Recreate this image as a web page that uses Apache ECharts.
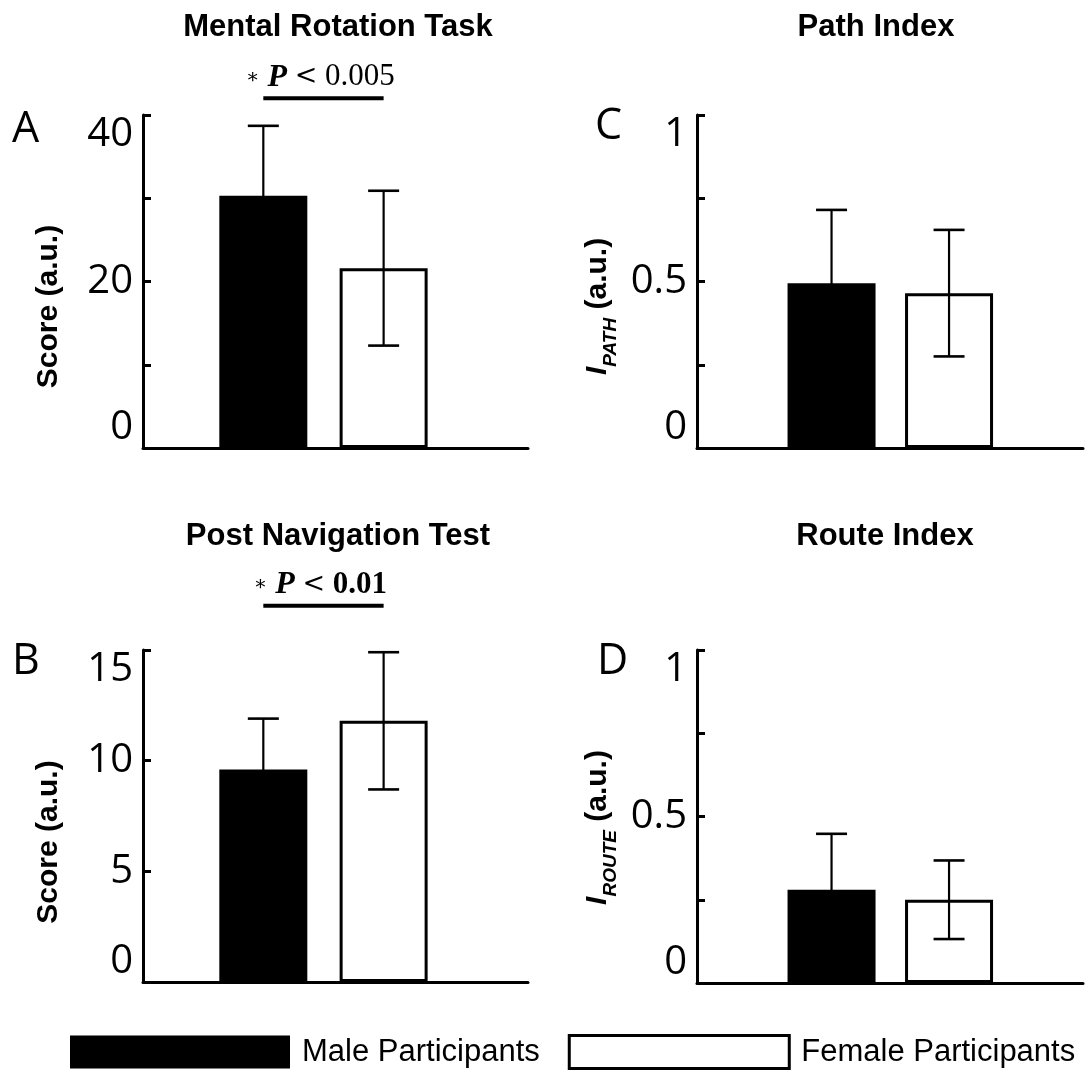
<!DOCTYPE html>
<html><head><meta charset="utf-8">
<script src="https://cdn.jsdelivr.net/npm/echarts@6/dist/echarts.min.js"></script>
<style>html,body{margin:0;padding:0;background:#fff}#c{width:1086px;height:1075px}</style>
</head><body><div id="c"></div>
<script>
// ---- data ----
const groupNames = ['Male Participants', 'Female Participants'];
const panelLetters = ['A', 'B', 'C', 'D'];
const panelTitles = ['Mental Rotation Task', 'Post Navigation Test', 'Path Index', 'Route Index'];
const groupX = [1, 2];
const maleMean = [30.3, 9.6, 0.495, 0.28];
const maleSD = [8.4, 2.3, 0.22, 0.168];
const femaleMean = [21.6, 11.8, 0.465, 0.25];
const femaleSD = [9.3, 3.1, 0.19, 0.118];
const yMax = [40, 15, 1, 1];
const yStep = [10, 5, 0.25, 0.25];
const yLabelled = [[0, 20, 40], [0, 5, 10, 15], [0, 0.5, 1], [0, 0.5, 1]];
const sigStar = ['∗', '∗', null, null];
const sigP = ['0.005', '0.01', null, null];
const sigLevel = [42, 17, null, null];
const yNames = [
  'Score (a.u.)',
  'Score (a.u.)',
  '{i|I}{s|PATH}{n| (a.u.)}',
  '{i|I}{s|ROUTE}{n| (a.u.)}'
];

// ---- layout ----
const gridLeft = [143, 143, 697, 697];
const gridTop = [115, 650, 115, 650];
const gridWidth = [385, 385, 386, 386];
const gridHeight = [333, 332, 333, 333];
const xMin = [0, 0, -0.145, -0.145];
const xMax = [3.2, 3.2, 3.14, 3.14];
const titleX = [338, 338, 876, 885];
const titleY = [12, 521, 12, 521];
const nameShift = [50, 52, 50, 22];
const nameGapArr = [79, 79, 77, 77];
const letterX = [12, 12, 595, 597];
const letterY = [130, 662, 127, 662];

const chart = echarts.init(document.getElementById('c'), null, {renderer: 'canvas'});

const grids = [], xAxes = [], yAxes = [], series = [], titles = [], graphics = [];
const nameRich = {
  i: {fontFamily: 'Liberation Sans', fontStyle: 'italic', fontWeight: 'bold', fontSize: 30, lineHeight: 44, color: '#000'},
  s: {fontFamily: 'Liberation Sans', fontStyle: 'italic', fontWeight: 'bold', fontSize: 19, lineHeight: 26, verticalAlign: 'bottom', color: '#000'},
  n: {fontFamily: 'Liberation Sans', fontWeight: 'bold', fontSize: 30, lineHeight: 44, color: '#000'}
};

for (let i = 0; i < 4; i++) {
  grids.push({left: gridLeft[i], top: gridTop[i], width: gridWidth[i], height: gridHeight[i], containLabel: false});
  xAxes.push({
    type: 'value', gridIndex: i, min: xMin[i], max: xMax[i],
    axisLine: {show: true, onZero: false, lineStyle: {color: '#000', width: 3}},
    axisTick: {show: false}, axisLabel: {show: false}, splitLine: {show: false}
  });
  const labelled = yLabelled[i];
  yAxes.push({
    type: 'value', gridIndex: i, min: 0, max: yMax[i], interval: yStep[i],
    axisLine: {show: true, onZero: false, lineStyle: {color: '#000', width: 3}},
    axisTick: {show: true, inside: true, length: 8, lineStyle: {color: '#000', width: 3}},
    splitLine: {show: false},
    axisLabel: {
      margin: 10, color: '#000', fontFamily: 'Open Sans', fontSize: 40,
      verticalAlignMinLabel: 'bottom', verticalAlignMaxLabel: 'top',
      formatter: v => labelled.some(t => Math.abs(t - v) < 1e-9) ? String(v) : ''
    },
    name: yNames[i], nameLocation: 'middle', nameRotate: 90, nameGap: nameGapArr[i],
    nameTextStyle: {
      fontFamily: 'Liberation Sans', fontWeight: 'bold', fontSize: 30, color: '#000',
      padding: [0, nameShift[i], 0, 0], rich: nameRich
    }
  });
  titles.push({
    text: panelTitles[i], left: titleX[i], top: titleY[i], textAlign: 'center', padding: 0,
    textStyle: {fontFamily: 'Liberation Sans', fontWeight: 'bold', fontSize: 31, color: '#000'}
  });
  graphics.push({
    type: 'text', x: letterX[i], y: letterY[i],
    style: {text: panelLetters[i], fontFamily: 'Open Sans', fontSize: 43, fill: '#000', verticalAlign: 'middle'}
  });

  series.push({
    type: 'bar', name: groupNames[0], xAxisIndex: i, yAxisIndex: i,
    barWidth: 88, barGap: '-100%',
    itemStyle: {color: '#000'},
    data: [[groupX[0], maleMean[i]]], silent: true
  });
  series.push({
    type: 'bar', name: groupNames[1], xAxisIndex: i, yAxisIndex: i,
    barWidth: 88, barGap: '-100%',
    itemStyle: {color: '#fff', borderColor: '#000', borderWidth: 3},
    data: [[groupX[1], femaleMean[i]]], silent: true
  });
  series.push({
    type: 'custom', name: 'error', xAxisIndex: i, yAxisIndex: i, clip: false, silent: true, z: 5,
    data: [[groupX[0], maleMean[i], maleSD[i]], [groupX[1], femaleMean[i], femaleSD[i]]],
    renderItem: function (params, api) {
      const x = api.value(0), m = api.value(1), s = api.value(2);
      const top = api.coord([x, m + s]);
      const bot = api.coord([x, m - s]);
      const hw = 15.5;
      const stem = {stroke: '#000', lineWidth: 2.2};
      const cap = {stroke: '#000', lineWidth: 2.6};
      return {type: 'group', children: [
        {type: 'line', shape: {x1: top[0], y1: top[1], x2: bot[0], y2: bot[1]}, style: stem},
        {type: 'line', shape: {x1: top[0] - hw, y1: top[1], x2: top[0] + hw, y2: top[1]}, style: cap},
        {type: 'line', shape: {x1: bot[0] - hw, y1: bot[1], x2: bot[0] + hw, y2: bot[1]}, style: cap}
      ]};
    }
  });
  if (sigLevel[i] !== null) {
    const pText = sigP[i];
    const boldP = (i === 1);
    series.push({
      type: 'custom', name: 'significance', xAxisIndex: i, yAxisIndex: i, clip: false, silent: true,
      data: [[groupX[0], groupX[1], sigLevel[i]]],
      renderItem: function (params, api) {
        const a = api.coord([api.value(0), api.value(2)]);
        const b = api.coord([api.value(1), api.value(2)]);
        return {type: 'group', children: [
          {type: 'line', shape: {x1: a[0], y1: a[1], x2: b[0], y2: b[1]}, style: {stroke: '#000', lineWidth: 4}},
          {type: 'text', style: {
            x: (a[0] + b[0]) / 2 - 3, y: a[1] - 21, align: 'center', verticalAlign: 'middle',
            text: '{st|' + sigStar[i] + '} {p|P} {lt|<} ' + (boldP ? '{b|' : '{n|') + pText + '}',
            rich: {
              st: {fontFamily: 'DejaVu Serif', fontSize: 20, fill: '#000'},
              p: {fontFamily: 'Liberation Serif', fontStyle: 'italic', fontWeight: 'bold', fontSize: 32, fill: '#000'},
              lt: {fontFamily: 'DejaVu Serif', fontSize: 27, fill: '#000'},
              n: {fontFamily: 'Liberation Serif', fontSize: 31, fill: '#000'},
              b: {fontFamily: 'Liberation Serif', fontWeight: 'bold', fontSize: 31, fill: '#000'}
            },
            fill: '#000', fontFamily: 'Liberation Serif', fontSize: 31
          }}
        ]};
      }
    });
  }
}

chart.setOption({
  animation: false,
  backgroundColor: '#fff',
  title: titles,
  grid: grids,
  xAxis: xAxes,
  yAxis: yAxes,
  legend: {
    left: 70, top: 1034, padding: 0, itemWidth: 220, itemHeight: 33, itemGap: 28,
    selectedMode: false,
    textStyle: {fontFamily: 'Liberation Sans', fontSize: 31, color: '#000', padding: [0, 0, 0, 7]},
    data: [
      {name: groupNames[0], icon: 'rect', itemStyle: {color: '#000', borderWidth: 0}},
      {name: groupNames[1], icon: 'rect', itemStyle: {color: '#fff', borderColor: '#000', borderWidth: 3}}
    ]
  },
  graphic: graphics,
  series: series
});
</script>
</body></html>
